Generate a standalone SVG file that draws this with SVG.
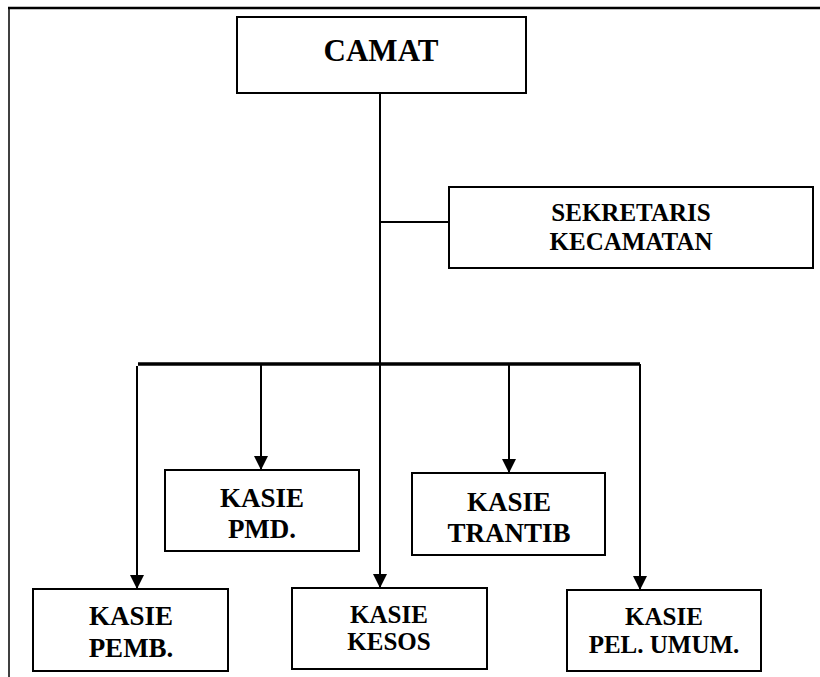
<svg xmlns="http://www.w3.org/2000/svg" width="820" height="677" viewBox="0 0 820 677">
<style>
.box{fill:#fff;stroke:#000;stroke-width:2}
.t{font-family:"Liberation Serif","Times New Roman",serif;font-weight:bold;text-anchor:middle;fill:#000}
.ln{stroke:#000;stroke-width:2;fill:none}
</style>
<defs>
<marker id="arr" markerUnits="userSpaceOnUse" markerWidth="14" markerHeight="16" refX="13" refY="7" orient="auto">
<path d="M0,0 L14,7 L0,14 Z" fill="#000"/>
</marker>
</defs>
<rect width="820" height="677" fill="#fff"/>
<g id="frame">
<line x1="8" y1="8" x2="820" y2="8" stroke="#000" stroke-width="2.5"/>
<line x1="9" y1="8" x2="9" y2="677" stroke="#000" stroke-width="1.5"/>
</g>
<g id="connectors">
<line class="ln" x1="380" y1="93" x2="380" y2="587" marker-end="url(#arr)"/>
<line class="ln" x1="380" y1="222" x2="449" y2="222"/>
<line x1="138" y1="364" x2="640" y2="364" stroke="#000" stroke-width="3.5"/>
<line class="ln" x1="137" y1="366" x2="137" y2="588" marker-end="url(#arr)"/>
<line class="ln" x1="261" y1="364" x2="261" y2="469" marker-end="url(#arr)"/>
<line class="ln" x1="509" y1="364" x2="509" y2="472" marker-end="url(#arr)"/>
<line class="ln" x1="640" y1="364" x2="640" y2="589" marker-end="url(#arr)"/>
</g>
<g id="camat">
<rect class="box" x="237" y="17" width="289" height="76"/>
<text class="t" x="381" y="61" font-size="31">CAMAT</text>
</g>
<g id="sekretaris">
<rect class="box" x="449" y="187" width="364" height="81"/>
<text class="t" x="631" y="221" font-size="25">SEKRETARIS</text>
<text class="t" x="631" y="250" font-size="25">KECAMATAN</text>
</g>
<g id="pmd">
<rect class="box" x="165" y="470" width="194" height="81"/>
<text class="t" x="262" y="507" font-size="27">KASIE</text>
<text class="t" x="262" y="538" font-size="27">PMD.</text>
</g>
<g id="trantib">
<rect class="box" x="412" y="473" width="193" height="82"/>
<text class="t" x="509" y="511" font-size="27">KASIE</text>
<text class="t" x="509" y="542" font-size="27">TRANTIB</text>
</g>
<g id="pemb">
<rect class="box" x="33" y="589" width="195" height="82"/>
<text class="t" x="131" y="625" font-size="27">KASIE</text>
<text class="t" x="131" y="657" font-size="27">PEMB.</text>
</g>
<g id="kesos">
<rect class="box" x="292" y="588" width="195" height="81"/>
<text class="t" x="389" y="623" font-size="25">KASIE</text>
<text class="t" x="389" y="650" font-size="25">KESOS</text>
</g>
<g id="pelumum">
<rect class="box" x="567" y="590" width="194" height="81"/>
<text class="t" x="664" y="625" font-size="25">KASIE</text>
<text class="t" x="664" y="653" font-size="25">PEL. UMUM.</text>
</g>
</svg>
